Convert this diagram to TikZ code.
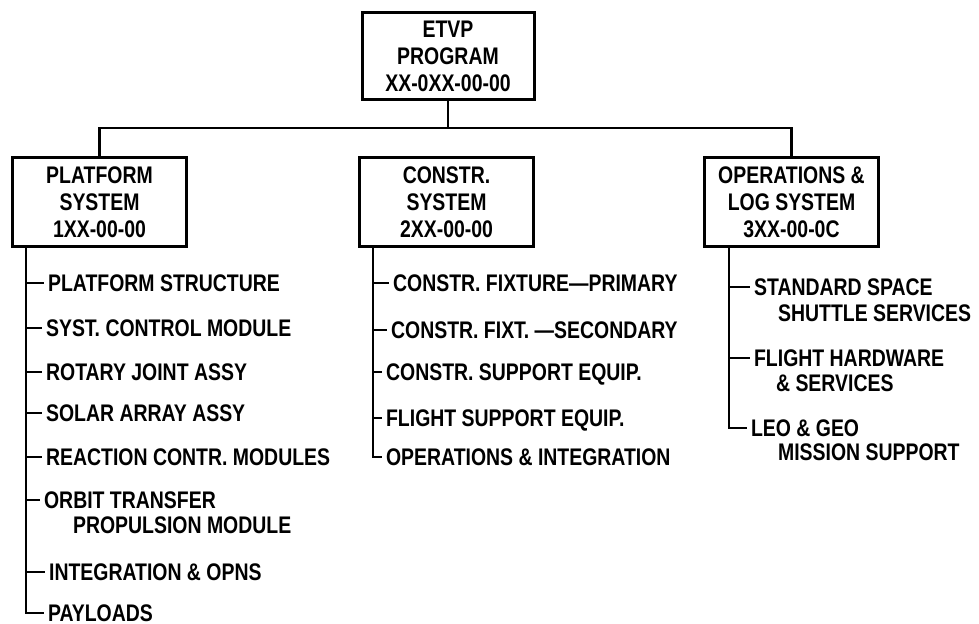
\documentclass[tikz,border=0pt]{standalone}
\usepackage{fontspec}
\setmainfont{Liberation Sans}[FakeStretch=0.81]
\usetikzlibrary{positioning}

\begin{document}
\begin{tikzpicture}[x=0.5pt, y=-0.5pt, line width=1.1pt, node distance=173.5pt,
  box/.style={draw, line width=1.5pt, minimum width=87pt, minimum height=44.5pt, inner sep=0pt, align=center, font=\bfseries\fontsize{12}{13.5}\selectfont},
  item/.style={anchor=west, inner xsep=1.5pt, inner ysep=0pt, text height=8.6pt, text depth=0pt, font=\bfseries\fontsize{12}{13.5}\selectfont}]
\useasboundingbox (0,0) rectangle (979,624);
% boxes
\node[box, minimum width=86pt, minimum height=43.5pt] (prog) at (448,56.5) {ETVP\\PROGRAM\\XX-0XX-00-00};
\node[box] (plat) at (99.5,202.5) {PLATFORM\\SYSTEM\\1XX-00-00};
\node[box, right of=plat] (cons) {CONSTR.\\SYSTEM\\2XX-00-00};
\node[box, right of=cons, node distance=172.5pt] (opsys) {OPERATIONS \&\\LOG SYSTEM\\3XX-00-0C};
\coordinate (bus) at (448,128);
\draw (prog.south) -- (bus);
\draw (plat.north) |- (bus) -| (opsys.north);
% platform items
\node[item] (p1) at (44,283) {PLATFORM STRUCTURE};
\node[item] (p2) at (42,328) {SYST. CONTROL MODULE};
\node[item] (p3) at (42,372) {ROTARY JOINT ASSY};
\node[item] (p4) at (42,413) {SOLAR ARRAY ASSY};
\node[item] (p5) at (42,457) {REACTION CONTR. MODULES};
\node[item] (p6) at (40,500) {ORBIT TRANSFER};
\node[item] (p6b) at (69,525) {PROPULSION MODULE};
\node[item] (p7) at (45,572) {INTEGRATION \& OPNS};
\node[item] (p8) at (44,613) {PAYLOADS};
\coordinate (ptrunk) at ([xshift=7.5pt]plat.south west);
\draw (ptrunk) |- (p8.west);
\foreach \n in {p1,p2,p3,p4,p5,p6,p7}
  \draw (\n.west -| ptrunk) -- (\n.west);
% construction items
\node[item] (c1) at (389,283) {CONSTR. FIXTURE—PRIMARY};
\node[item] (c2) at (387,330) {CONSTR. FIXT. —SECONDARY};
\node[item] (c3) at (382,372) {CONSTR. SUPPORT EQUIP.};
\node[item] (c4) at (382,418) {FLIGHT SUPPORT EQUIP.};
\node[item] (c5) at (382,457) {OPERATIONS \& INTEGRATION};
\coordinate (ctrunk) at ([xshift=7.5pt]cons.south west);
\draw (ctrunk) |- (c5.west);
\foreach \n in {c1,c2,c3,c4}
  \draw (\n.west -| ctrunk) -- (\n.west);
% operations items
\node[item] (o1) at (750,287) {STANDARD SPACE};
\node[item] (o1b) at (774,313) {SHUTTLE SERVICES};
\node[item] (o2) at (750,358) {FLIGHT HARDWARE};
\node[item] (o2b) at (772,383) {\& SERVICES};
\node[item] (o3) at (747,428) {LEO \& GEO};
\node[item] (o3b) at (774,452) {MISSION SUPPORT};
\coordinate (otrunk) at ([xshift=13pt]opsys.south west);
\draw (otrunk) |- (o3.west);
\foreach \n in {o1,o2}
  \draw (\n.west -| otrunk) -- (\n.west);
\end{tikzpicture}
\end{document}
